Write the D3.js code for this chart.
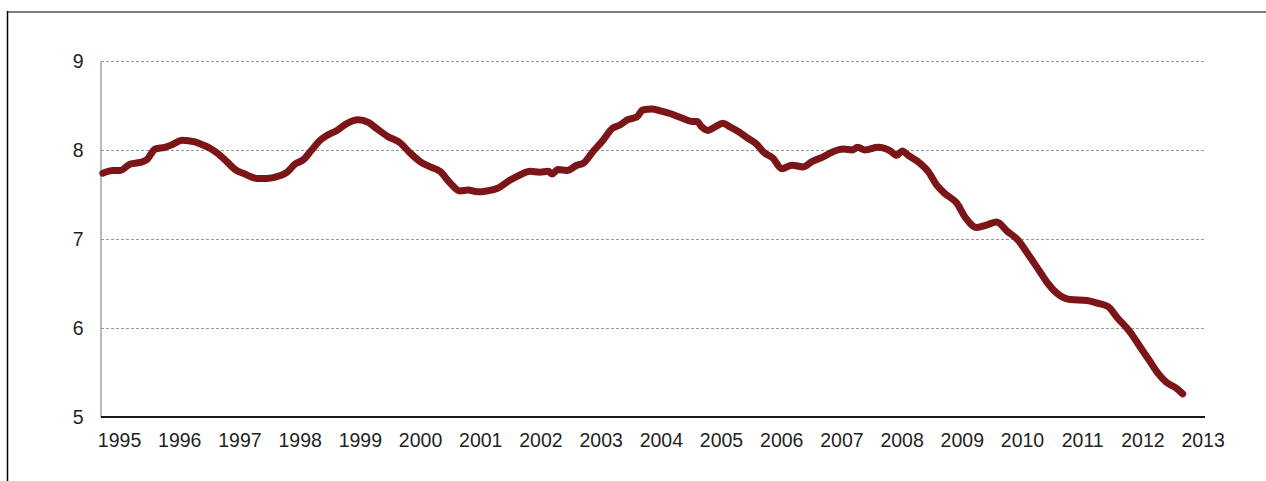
<!DOCTYPE html>
<html>
<head>
<meta charset="utf-8">
<script src="https://cdn.jsdelivr.net/npm/d3@7"></script>
<style>
  html, body { margin: 0; padding: 0; background: #ffffff; }
  svg { display: block; }
  text { font-family: "Liberation Sans", Arial, sans-serif; fill: #1f1f1f; }
</style>
</head>
<body>
<svg id="chart" width="1266" height="481"></svg>
<script>
// ---- data (decimal year, value) ----
const dates = [
  1995.03, 1995.20, 1995.32, 1995.48, 1995.65, 1995.76, 1995.90,
  1996.06, 1996.18, 1996.35, 1996.56, 1996.68, 1996.81, 1996.94,
  1997.09, 1997.23, 1997.39, 1997.59, 1997.76, 1997.97,
  1998.09, 1998.22, 1998.36, 1998.50, 1998.64, 1998.77, 1998.92,
  1999.09, 1999.27, 1999.44, 1999.58, 1999.77, 1999.97,
  2000.13, 2000.30, 2000.47, 2000.63, 2000.80, 2000.96,
  2001.10, 2001.25, 2001.41, 2001.59, 2001.79, 2001.96,
  2002.13, 2002.29, 2002.43, 2002.49, 2002.59, 2002.74, 2002.91,
  2003.01, 2003.17, 2003.34, 2003.49, 2003.62, 2003.75, 2003.90,
  2004.00, 2004.15, 2004.29, 2004.45, 2004.65, 2004.82, 2004.90, 2004.98,
  2005.08, 2005.20, 2005.33, 2005.45, 2005.58, 2005.75, 2005.90,
  2006.00, 2006.16, 2006.31, 2006.48, 2006.66, 2006.81, 2006.99,
  2007.16, 2007.33, 2007.48, 2007.57, 2007.69, 2007.91,
  2008.11, 2008.22, 2008.31, 2008.41, 2008.57, 2008.74, 2008.89,
  2009.02, 2009.22, 2009.35, 2009.55, 2009.72, 2009.88,
  2010.05, 2010.23, 2010.43, 2010.60, 2010.73, 2010.88,
  2011.10, 2011.38, 2011.55, 2011.73, 2011.89,
  2012.09, 2012.26, 2012.43, 2012.56, 2012.70, 2012.87, 2012.97
];
const values = [
  7.74, 7.77, 7.77, 7.84, 7.86, 7.89, 8.01,
  8.03, 8.06, 8.11, 8.09, 8.06, 8.02, 7.96,
  7.87, 7.78, 7.73, 7.68, 7.68, 7.71,
  7.75, 7.84, 7.89, 8.00, 8.11, 8.17, 8.22,
  8.30, 8.34, 8.31, 8.24, 8.15, 8.08,
  7.97, 7.87, 7.81, 7.76, 7.63, 7.54,
  7.55, 7.53, 7.54, 7.57, 7.66, 7.72,
  7.76, 7.75, 7.76, 7.73, 7.78, 7.77, 7.83,
  7.85, 7.98, 8.11, 8.24, 8.28, 8.34, 8.37,
  8.45, 8.46, 8.44, 8.41, 8.36, 8.32, 8.32, 8.26,
  8.22, 8.26, 8.30, 8.26, 8.21, 8.13, 8.06,
  7.98, 7.91, 7.79, 7.83, 7.81, 7.87, 7.92,
  7.98, 8.01, 8.00, 8.03, 8.00, 8.03,
  7.99, 7.94, 7.99, 7.94, 7.87, 7.76, 7.60,
  7.51, 7.40, 7.25, 7.13, 7.16, 7.19,
  7.09, 6.99, 6.80, 6.63, 6.50, 6.39,
  6.32, 6.31, 6.28, 6.24, 6.11,
  5.96, 5.79, 5.62, 5.49, 5.39, 5.32, 5.26
];
const xTickLabels = [1995, 1996, 1997, 1998, 1999, 2000, 2001, 2002, 2003, 2004,
                     2005, 2006, 2007, 2008, 2009, 2010, 2011, 2012, 2013];
const yTicks = [5, 6, 7, 8, 9];

(function () {
  const svg = d3.select("#chart");
  const pLeft = 101, pRight = 1205, pTop = 61, pBottom = 417;

  const x = d3.scaleLinear().domain([1995, 2013.34]).range([pLeft, pRight]);
  const y = d3.scaleLinear().domain([5, 9]).range([pBottom, pTop]);

  // outer frame (top and left edges)
  svg.append("line").attr("x1", 7).attr("x2", 1266).attr("y1", 12).attr("y2", 12)
    .attr("stroke", "#7f7f7f").attr("stroke-width", 2);
  svg.append("line").attr("x1", 7.5).attr("x2", 7.5).attr("y1", 11).attr("y2", 481)
    .attr("stroke", "#000").attr("stroke-width", 1.5);

  // gridlines
  svg.append("g").selectAll("line")
    .data(yTicks.filter(d => d !== 5))
    .join("line")
    .attr("x1", pLeft).attr("x2", pRight)
    .attr("y1", d => Math.round(y(d)) + 0.5).attr("y2", d => Math.round(y(d)) + 0.5)
    .attr("stroke", "#9a9a9a").attr("stroke-width", 1)
    .attr("stroke-dasharray", "3,2");

  // y axis
  const yAxis = d3.axisLeft(y).tickValues(yTicks).tickSize(0).tickPadding(17)
    .tickFormat(d3.format("d"));
  const gy = svg.append("g").attr("transform", `translate(${pLeft - 0.5},0)`).call(yAxis);
  gy.select(".domain").attr("stroke", "#8a8a8a").attr("stroke-width", 1.2);
  gy.selectAll("text").attr("font-size", 19.5).attr("fill", "#1a1a1a")
    .style("font-family", '"Liberation Sans", Arial, sans-serif');

  // x axis baseline
  svg.append("line").attr("x1", pLeft).attr("x2", pRight)
    .attr("y1", y(5)).attr("y2", y(5))
    .attr("stroke", "#1a1a1a").attr("stroke-width", 2);

  // x labels
  const xAxis = d3.axisBottom(x).tickValues(xTickLabels.map(d => d + 0.3))
    .tickSize(0).tickPadding(16).tickFormat((d, i) => String(xTickLabels[i]));
  const gx = svg.append("g").attr("transform", `translate(0,${pBottom})`).call(xAxis);
  gx.select(".domain").remove();
  gx.selectAll("text").attr("font-size", 19.5).attr("fill", "#1a1a1a")
    .style("font-family", '"Liberation Sans", Arial, sans-serif');

  // line
  const pts = dates.map((d, i) => ({ t: d, v: values[i] }));
  const line = d3.line().x(d => x(d.t)).y(d => y(d.v)).curve(d3.curveMonotoneX);
  svg.append("path").datum(pts)
    .attr("d", line)
    .attr("fill", "none")
    .attr("stroke", "#7c1517")
    .attr("stroke-width", 7)
    .attr("stroke-linecap", "round")
    .attr("stroke-linejoin", "round");
})();
</script>
</body>
</html>
